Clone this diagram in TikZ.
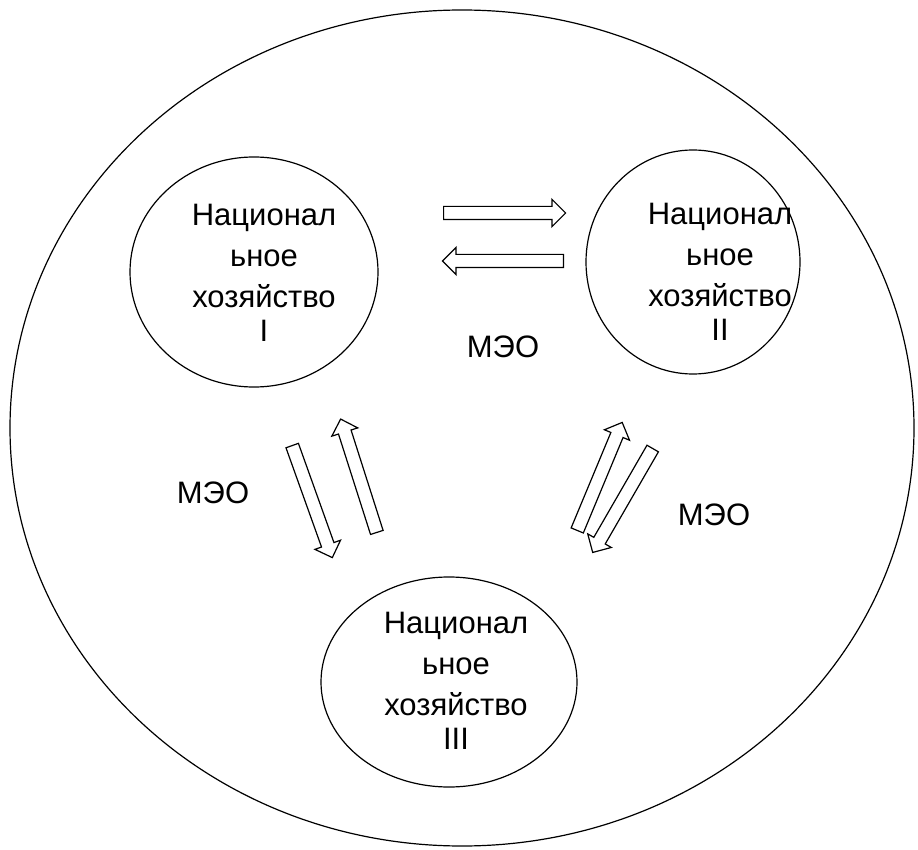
\documentclass[tikz,border=0pt]{standalone}
\usepackage{fontspec}
\setmainfont{Liberation Sans}
\usetikzlibrary{shapes.geometric}
\usetikzlibrary{shapes.arrows}
\tikzset{
economy/.style={ % ellipse of one national economy
draw,
ellipse,
line width=1.2pt,
inner sep=0pt},
caption/.style={font=\fontsize{31}{41}\selectfont,
align=center,
inner sep=0pt},
flow/.style={ % hollow block arrow
draw,
single arrow,
line width=1.2pt,
inner xsep=0pt,
inner ysep=6pt,
single arrow head extend=7pt,
minimum height=120pt,
anchor=tail}}

\begin{document}
\begin{tikzpicture}[x=1pt, y=-1pt]
\useasboundingbox (0,0) rectangle (918,850);
\node[economy, minimum width=904pt, minimum height=836pt] (world) at (462,428) {};
\node[economy, minimum width=248pt, minimum height=230pt] (ne1) at (254,272) {};
\node[economy, minimum width=214pt, minimum height=224pt] (ne2) at (693,262) {};
\node[economy, minimum width=256pt, minimum height=210pt] (ne3) at (449,682) {};
\node[caption] (t1) at (264,273) {Национал\\ьное\\хозяйство\\[-7pt]I};
\node[caption] (t2) at (720,272) {Национал\\ьное\\хозяйство\\[-7pt]II};
\node[caption] (t3) at (456,681) {Национал\\ьное\\хозяйство\\[-7pt]III};
% flows between the economies
\node[flow, minimum height=122pt] (a12) at (443,213) {};
\node[flow, rotate=180, minimum height=121pt] (a21) at (564,261) {};
\node[flow, rotate=-70.3, minimum height=119pt] (a13) at (292,445) {};
\node[flow, rotate=107.7, minimum height=119pt] (a31) at (377,533) {};
\node[flow, rotate=67.4, minimum height=117pt] (a32) at (577,531) {};
\node[flow, rotate=240, minimum height=120pt] (a23) at (653,448) {};
\node[caption] (meo12) at (503,347) {МЭО};
\node[caption] (meo13) at (213,493) {МЭО};
\node[caption] (meo23) at (714,515) {МЭО};
\end{tikzpicture}
\end{document}
